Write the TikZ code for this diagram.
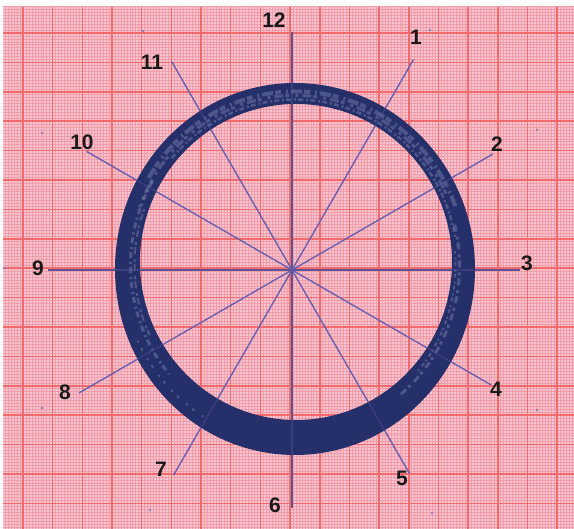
\documentclass[tikz,border=0pt]{standalone}
\usepackage{fontspec}
\setmainfont{Liberation Sans}
\usetikzlibrary{positioning,calc}
\definecolor{GPPink}{HTML}{F7C6D4}
\definecolor{GPFine}{HTML}{F29CA8}
\definecolor{GPMajor}{HTML}{F36A6C}
\definecolor{RingBlue}{HTML}{25306A}
\definecolor{RingPale}{HTML}{8A8FB8}
\definecolor{SpokeViolet}{HTML}{6A60B2}
\definecolor{SpokeDark}{HTML}{55508E}

\begin{document}
\begin{tikzpicture}[
  x=1pt, y=1pt,
  fine/.style={GPFine, line width=0.6pt},
  major/.style={GPMajor, line width=1.6pt},
  spoke/.style={SpokeViolet, line width=1.3pt},
  hour/.style={font=\fontsize{21}{21}\selectfont\bfseries, text=black!90, inner sep=0pt},
  speck/.style={fill=SpokeViolet!80},
  mottle/.style={RingPale, opacity=0.4}
]
\useasboundingbox (0,0) rectangle (574,529);
\fill[white] (0,0) rectangle (574,529);
\fill[GPPink] (3,0) rectangle (574,522);
% graph paper
\begin{scope}
  \clip (3,0) rectangle (574,522);
  \foreach \i in {-10,...,190} \draw[fine] ({23+2.967*\i},0) -- ++(0,522);
  \foreach \j in {-10,...,180} \draw[fine] (0,{496-2.94*\j}) -- ++(574,0);
  \foreach \i in {-1,...,19} \draw[major] ({23+29.67*\i},0) -- ++(0,522);
  \foreach \j in {-1,...,17} \draw[major] (0,{496-29.4*\j}) -- ++(574,0);
\end{scope}
% stray pen marks
\foreach \sx/\sy in {143/498, 42/396, 430/499, 537/399, 537/119, 432/16, 42/121, 150/19, 5/261}
  \fill[speck] (\sx,\sy) circle (1.4pt);

\coordinate (C) at (292,259);
% spokes and hour labels
\foreach \n/\ang/\len/\lx/\ly in {1/60/243/416/492, 2/30/232/497/385, 3/0/228/527/266,
    4/-30/230/496/140, 5/-60/235/402/51, 6/-90/238/275/24, 7/-120/237/161/60,
    8/-150/246/65/137, 9/180/244/38/261, 10/150/237/82/387, 11/120/241/152/467,
    12/90/238/274/509} {
  \coordinate (e\n) at ($(C)+(\ang:\len)$);
  \draw[spoke] (C) -- (e\n);
  \node[hour] (l\n) at (\lx,\ly) {\n};
}
\draw[spoke, SpokeDark] (e12) -- (e6);
\draw[spoke, SpokeDark] (e9) -- (e3);

% ring
\coordinate (ro) at (295,260);
\coordinate (ri) at (296,267);
\coordinate (rm) at (295.5,263.5);
\fill[RingBlue, even odd rule] (ro) ellipse [x radius=180pt, y radius=186pt]
  (ri) ellipse [x radius=156pt, y radius=158pt];
% worn, paler pen strokes
\foreach \r/\w/\a/\b/\pat [evaluate=\r as \ry using \r+4] in {
    170/4/20/150/{on 11pt off 3pt on 2pt off 5pt on 6pt off 2pt},
    166/3/25/160/{on 4pt off 2pt on 9pt off 4pt on 3pt off 6pt},
    162/2.5/10/140/{on 2pt off 3pt on 5pt off 2pt},
    165/3/150/220/{on 6pt off 4pt on 2pt off 3pt},
    161/2/160/205/{on 3pt off 2pt on 7pt off 5pt},
    164/3/-50/15/{on 7pt off 3pt on 3pt off 5pt},
    160/2/-40/5/{on 2pt off 4pt on 4pt off 2pt},
    174/2/205/240/{on 2pt off 6pt on 3pt off 9pt}}
  \draw[mottle, line width=\w pt, dash pattern/.expanded=\pat]
    (rm) ++(\a:\r pt and \ry pt) arc[start angle=\a, end angle=\b, x radius=\r pt, y radius=\ry pt];

% spokes seen faintly across the ring
\foreach \n in {1,...,12}
  \draw[spoke, opacity=0.3] (C) -- (e\n);
\end{tikzpicture}
\end{document}
